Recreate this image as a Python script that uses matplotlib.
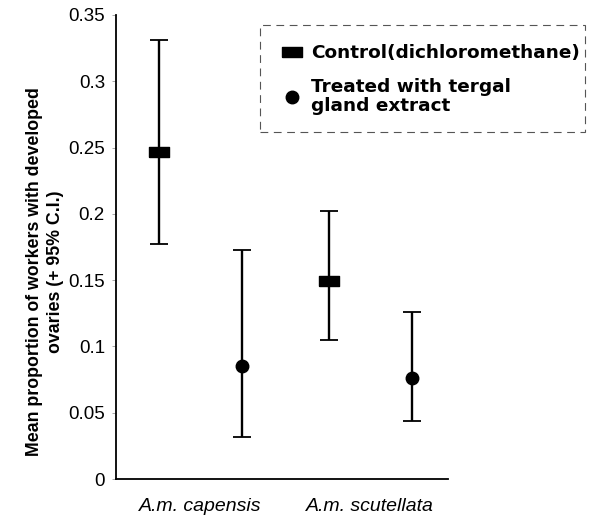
import matplotlib
matplotlib.use("Agg")
import matplotlib.pyplot as plt
from matplotlib.patches import Rectangle
import numpy as np

categories = ["A.m. capensis", "A.m. scutellata"]
control_mean = [0.247, 0.149]
control_low = [0.177, 0.105]
control_high = [0.331, 0.202]
treated_mean = [0.085, 0.076]
treated_low = [0.032, 0.044]
treated_high = [0.173, 0.126]
yticks = [0, 0.05, 0.1, 0.15, 0.2, 0.25, 0.3, 0.35]
ytick_labels = ["0", "0.05", "0.1", "0.15", "0.2", "0.25", "0.3", "0.35"]

plt.rcParams['font.family'] = ['Liberation Sans', 'DejaVu Sans']

W, H = 589, 519
fig = plt.figure(figsize=(W/100, H/100), dpi=100)
ax = fig.add_axes([116/W, 1 - 479/H, (448-116)/W, (479-15)/H])

x = np.arange(1, len(categories) + 1)
off = 0.245

rect = [(-1, -0.5), (1, -0.5), (1, 0.5), (-1, 0.5), (-1, -0.5)]

cm = np.array(control_mean)
tm = np.array(treated_mean)
ax.errorbar(x - off, cm, yerr=[cm - np.array(control_low), np.array(control_high) - cm],
            fmt='none', ecolor='black', elinewidth=1.7, capsize=6.5, capthick=1.3)
ax.plot(x - off, cm, linestyle='none', marker=rect, markersize=14.5,
        color='black', label='Control(dichloromethane)')
ax.errorbar(x + off, tm, yerr=[tm - np.array(treated_low), np.array(treated_high) - tm],
            fmt='none', ecolor='black', elinewidth=1.7, capsize=6.5, capthick=1.3)
ax.plot(x + off, tm, linestyle='none', marker='o', markersize=9,
        color='black', label='Treated with tergal\ngland extract')

ax.set_xlim(0.5, 2.46)
ax.set_ylim(0, 0.35)
ax.set_yticks(yticks)
ax.set_yticklabels(ytick_labels, fontsize=13.5)
ax.set_xticks(x)
ax.set_xticklabels(categories, fontsize=14, style='italic')
ax.tick_params(axis='y', length=3, width=0.6, color='#999999', pad=5)
ax.tick_params(axis='x', length=0, pad=14)
for s in ['top', 'right']:
    ax.spines[s].set_visible(False)
for s in ['left', 'bottom']:
    ax.spines[s].set_linewidth(1.3)

ax.set_ylabel("Mean proportion of workers with developed\novaries (+ 95% C.I.)",
              fontsize=12.8, fontweight='bold', linespacing=1.3)
ax.yaxis.set_label_coords((64-116)/332, (479-272)/464)

leg = ax.legend(loc='upper left', bbox_transform=fig.transFigure,
                bbox_to_anchor=(281/W, 1 - 44/H),
                frameon=False, prop={'family': 'DejaVu Sans', 'weight': 'bold', 'size': 13.3},
                handletextpad=0.5, handlelength=1.15, borderpad=0,
                labelspacing=0.85, borderaxespad=0)
for t in leg.get_texts():
    t.set_linespacing(1.1)

frame = Rectangle((260/W, 1 - 132/H), (585-260)/W, (132-25)/H, transform=fig.transFigure,
                  fill=False, edgecolor='#555555', linewidth=0.8,
                  linestyle=(0, (7, 5)), zorder=5)
fig.patches.append(frame)

fig.savefig("out.png", dpi=100)
